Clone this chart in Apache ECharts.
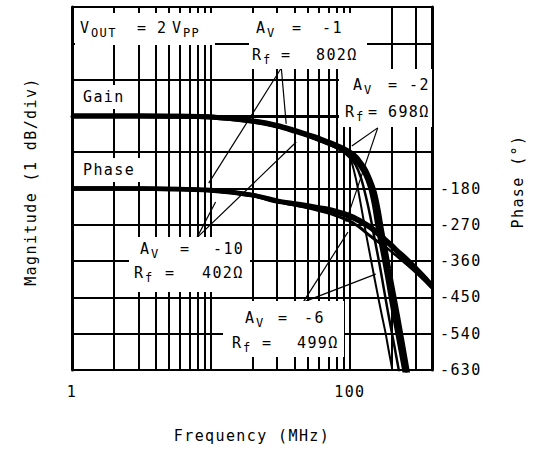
<!DOCTYPE html>
<html>
<head>
<meta charset="utf-8">
<script src="https://cdn.jsdelivr.net/npm/echarts@6/dist/echarts.min.js"></script>
<style>
  html, body { margin: 0; padding: 0; background: #fff; }
  #chart { width: 533px; height: 457px; }
  #chart text { letter-spacing: 1.4px; }
</style>
</head>
<body>
<div id="chart"></div>
<script>
// frequency points (MHz)
const freqs = [1, 2, 5, 10, 20, 30, 40, 50, 60, 70, 80, 90, 100, 110, 120, 130, 140, 150, 160, 170, 180, 190, 200, 220, 250, 300, 350, 390];

// magnitude, dB (relative)
const gainAv1 = [0, 0, -0.01, -0.03, -0.14, -0.26, -0.4, -0.52, -0.62, -0.72, -0.81, -0.9, -1.0, -1.12, -1.3, -1.5, -1.78, -2.1, -2.6, -3.2, -3.7, -4.2, -4.65, -5.5, -6.7, -8.5, -10.3, -11.7];
const gainAv2 = [0, 0, -0.01, -0.03, -0.15, -0.28, -0.42, -0.54, -0.65, -0.75, -0.84, -0.94, -1.05, -1.2, -1.4, -1.62, -1.95, -2.45, -3.1, -3.6, -4.1, -4.6, -5.1, -5.95, -7.1, -9.0, -10.8, -12.2];
const gainAv6 = [0, 0, -0.01, -0.04, -0.16, -0.3, -0.44, -0.56, -0.68, -0.78, -0.88, -1.0, -1.15, -1.35, -1.7, -2.2, -2.75, -3.35, -3.9, -4.45, -5.0, -5.5, -5.95, -6.8, -8.0, -10, -11.8, -13];
const gainAv10 = [0, 0, -0.01, -0.04, -0.16, -0.3, -0.44, -0.56, -0.68, -0.78, -0.88, -0.98, -1.15, -1.7, -2.45, -3.2, -3.85, -4.45, -5.0, -5.5, -5.95, -6.45, -6.9, -7.8, -9.0, -11, -12.8, -14];

// phase, degrees
const phaseAv1 = [-180, -180, -181, -184, -196, -210, -217, -222, -227, -231, -236, -241, -247, -253, -260, -267, -274, -282, -290, -298, -306, -313, -320, -334, -351, -378, -402, -420];
const phaseAv2 = [-180, -180, -181, -185, -197, -212, -219, -225, -230, -235, -240, -245, -251, -257, -264, -271, -278, -286, -294, -302, -310, -317, -324, -338, -355, -382, -406, -424];
const phaseAv6 = [-180, -180, -181, -185, -198, -213, -221, -228, -235, -241, -247, -253, -260, -268, -277, -287, -296, -304, -311, -318, -324, -330, -336, -348, -363, -387, -409, -426];
const phaseAv10 = [-180, -180, -182, -186, -199, -214, -222, -229, -236, -242, -249, -256, -263, -271, -280, -290, -299, -307, -314, -320, -326, -332, -338, -350, -366, -390, -412, -429];

// axis labels
const xLabels = [1, 100];
const phaseLabels = [-180, -270, -360, -450, -540, -630];
const minorFreqs = [2, 3, 4, 5, 6, 7, 8, 9, 20, 30, 40, 50, 60, 70, 80, 90, 200, 300];

// annotation arrows: [from, to] in (MHz, dB)
const arrows = [
    [[32.1, 1.32], [34.8, -0.22]],
    [[32.1, 1.32], [9.64, -1.85]],
    [[158.6, -0.33], [103.3, -0.83]],
    [[158.6, -0.33], [93.6, -2.92]],
    [[7.91, -3.36], [10.8, -2.37]],
    [[7.91, -3.36], [41.1, -0.72]],
    [[46.1, -5.13], [96.8, -3.2]],
    [[46.1, -5.13], [153.5, -4.36]]
];

const FONT = '"DejaVu Sans Mono", monospace';
const pair = (ys) => freqs.map((f, i) => [f, ys[i]]);

function curve(name, ys, yAxisIndex, width) {
    return {
        name: name,
        type: 'line',
        yAxisIndex: yAxisIndex,
        data: pair(ys),
        showSymbol: false,
        smooth: 0.3,
        silent: true,
        lineStyle: { color: '#000', width: width }
    };
}

function box(x, y, w, h) {
    return { type: 'rect', z: 9, silent: true, shape: { x: x, y: y, width: w, height: h }, style: { fill: '#fff' } };
}
// a label line built from pieces; [x, text, isSubscript]
function note(y, parts) {
    return parts.map((p) => ({
        type: 'text', z: 10, silent: true,
        x: p[0], y: p[2] ? y + 5 : y,
        style: {
            text: p[1], fill: '#000', fontFamily: FONT,
            fontSize: p[2] ? 12 : 15, verticalAlign: 'middle'
        }
    }));
}

const chart = echarts.init(document.getElementById('chart'), null, { renderer: 'svg' });

const option = {
    animation: false,
    backgroundColor: '#fff',
    grid: { left: 72, top: 7, right: 99, bottom: 87 },
    xAxis: {
        type: 'log',
        logBase: 10,
        min: 1,
        max: 390,
        axisLine: { lineStyle: { color: '#000', width: 3 } },
        axisTick: { show: false },
        splitLine: { show: true, lineStyle: { color: '#000', width: 2 } },
        axisLabel: {
            color: '#000', fontFamily: FONT, fontSize: 15, margin: 14,
            formatter: (v) => xLabels.includes(Math.round(v)) ? String(Math.round(v)) : ''
        },
        name: 'Frequency (MHz)',
        nameLocation: 'middle',
        nameGap: 58,
        nameTextStyle: { color: '#000', fontFamily: FONT, fontSize: 15 }
    },
    yAxis: [
        {
            type: 'value',
            min: -7,
            max: 3,
            interval: 1,
            axisLine: { show: true, lineStyle: { color: '#000', width: 3 } },
            axisTick: { show: false },
            axisLabel: { show: false },
            splitLine: { show: true, lineStyle: { color: '#000', width: 2 } },
            name: 'Magnitude (1 dB/div)',
            nameLocation: 'middle',
            nameGap: 34,
            nameRotate: 90,
            nameTextStyle: { color: '#000', fontFamily: FONT, fontSize: 15, padding: [0, 0, 0, 14] }
        },
        {
            type: 'value',
            position: 'right',
            min: -630,
            max: 270,
            interval: 90,
            axisLine: { show: true, lineStyle: { color: '#000', width: 3 } },
            axisTick: { show: false },
            splitLine: { show: false },
            axisLabel: {
                color: '#000', fontFamily: FONT, fontSize: 15, margin: 8,
                formatter: (v) => phaseLabels.includes(v) ? String(v) : ''
            },
            name: 'Phase (°)',
            nameLocation: 'middle',
            nameGap: 78,
            nameRotate: 90,
            nameTextStyle: { color: '#000', fontFamily: FONT, fontSize: 15, padding: [0, 0, 0, 14] }
        }
    ],
    series: [
        {
            type: 'line',
            data: [],
            silent: true,
            markLine: {
                silent: true,
                symbol: 'none',
                label: { show: false },
                lineStyle: { color: '#000', width: 2, type: 'solid' },
                data: minorFreqs.map((f) => ({ xAxis: f }))
            }
        },
        {
            type: 'line',
            data: [],
            silent: true,
            markLine: {
                silent: true,
                symbol: ['none', 'arrow'],
                symbolSize: [0, 10],
                label: { show: false },
                lineStyle: { color: '#000', width: 1.2, type: 'solid' },
                data: arrows.map((a) => [{ coord: a[0] }, { coord: a[1] }])
            }
        },
        curve('Gain Av=-1', gainAv1, 0, 5),
        curve('Gain Av=-2', gainAv2, 0, 5),
        curve('Gain Av=-6', gainAv6, 0, 2.5),
        curve('Gain Av=-10', gainAv10, 0, 2),
        curve('Phase Av=-1', phaseAv1, 1, 4.5),
        curve('Phase Av=-2', phaseAv2, 1, 4.5),
        curve('Phase Av=-6', phaseAv6, 1, 2),
        curve('Phase Av=-10', phaseAv10, 1, 2)
    ],
    graphic: [].concat(
        [box(75, 13, 140, 32)],
        note(28, [[80, 'V'], [91, 'OUT', true], [137, '='], [157, '2'], [172, 'V'], [183, 'PP', true]]),
        [box(249, 13, 118, 56)],
        note(28, [[256, 'A'], [267, 'V', true], [292, '='], [322, '-1']]),
        note(55, [[252, 'R'], [263, 'f', true], [281, '='], [316, '802Ω']]),
        [box(78, 85, 54, 24)],
        note(97, [[83, 'Gain']]),
        [box(78, 158, 68, 24)],
        note(170, [[83, 'Phase']]),
        [box(339, 69, 93, 58)],
        note(85, [[353, 'A'], [364, 'V', true], [388, '='], [409, '-2']]),
        note(112, [[345, 'R'], [356, 'f', true], [368, '='], [388, '698Ω']]),
        [box(129, 237, 121, 55)],
        note(249, [[140, 'A'], [151, 'V', true], [180, '='], [213, '-10']]),
        note(273, [[134, 'R'], [145, 'f', true], [165, '='], [202, '402Ω']]),
        [box(223, 301, 121, 56)],
        note(318, [[245, 'A'], [256, 'V', true], [278, '='], [304, '-6']]),
        note(343, [[232, 'R'], [243, 'f', true], [262, '='], [297, '499Ω']])
    )
};

chart.setOption(option);
</script>
</body>
</html>
